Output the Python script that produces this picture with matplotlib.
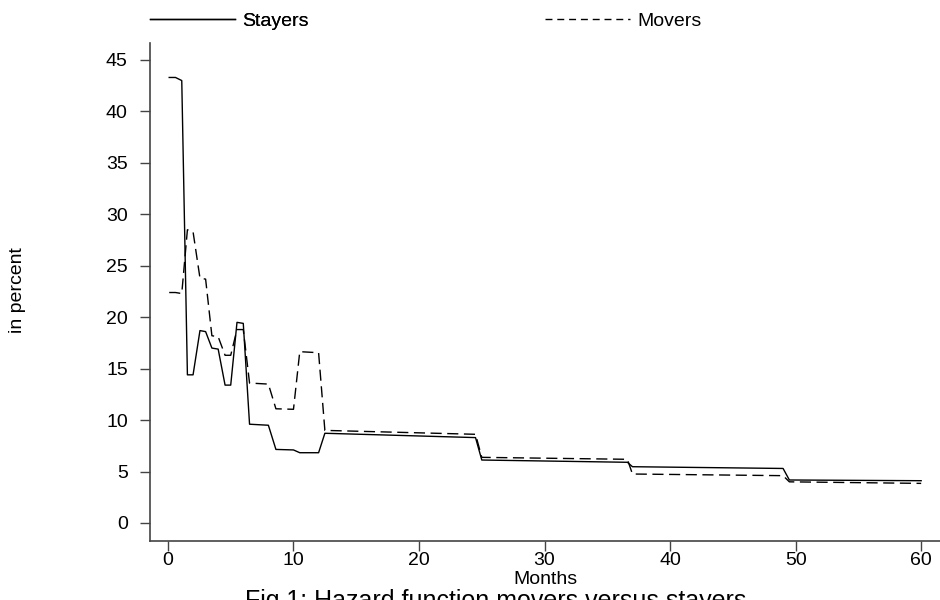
import matplotlib
matplotlib.use("Agg")
import matplotlib.pyplot as plt
from matplotlib.lines import Line2D

plt.rcParams['font.family'] = ['Liberation Sans', 'DejaVu Sans']

# months at which the hazard estimate changes
months = [0.1, 0.6, 1.1, 1.55, 2.0, 2.55, 3.0, 3.5, 4.0, 4.55, 5.0, 5.5, 6.0,
          6.5, 8.0, 8.6, 10.0, 10.5, 12.0, 12.5, 24.5, 25.0, 36.6, 37.0,
          49.0, 49.5, 60.0]

# hazard in percent
stayers = [43.3, 43.3, 43.0, 14.4, 14.4, 18.7, 18.6, 17.0, 16.9, 13.4, 13.4,
           19.5, 19.4, 9.6, 9.5, 7.15, 7.1, 6.83, 6.83, 8.72, 8.3, 6.12, 5.9,
           5.47, 5.3, 4.18, 4.11]
movers = [22.4, 22.4, 22.3, 28.5, 28.3, 23.8, 23.7, 18.2, 18.1, 16.3, 16.3,
          18.8, 18.8, 13.6, 13.5, 11.1, 11.05, 16.65, 16.55, 9.0, 8.62, 6.38,
          6.19, 4.76, 4.6, 4.0, 3.85]

xticks = [0, 10, 20, 30, 40, 50, 60]
yticks = [0, 5, 10, 15, 20, 25, 30, 35, 40, 45]

fig = plt.figure(figsize=(9.4, 6), dpi=100)
ax = fig.add_axes([150 / 940, 59 / 600, 790 / 940, 498 / 600])

ax.plot(months, stayers, color='black', lw=1.0)
ax.plot(months, movers, color='black', lw=1.0, ls=(0, (8, 4)))

ax.set_xlim(-1.43, 61.5)
ax.set_ylim(-1.75, 46.65)
ax.set_xticks(xticks)
ax.set_yticks(yticks)

for side in ['top', 'right']:
    ax.spines[side].set_visible(False)
for side in ['left', 'bottom']:
    ax.spines[side].set_color('#444444')
    ax.spines[side].set_linewidth(1.2)

ax.tick_params(axis='both', length=7.5, width=1, color='#444444', labelsize=14)
ax.tick_params(axis='y', pad=8.5)
ax.tick_params(axis='x', pad=0.5)

ax.set_xlabel('Months', fontsize=14, labelpad=1)
fig.text(18 / 940, 1 - 290 / 600, 'in percent', rotation=90, fontsize=14,
         ha='center', va='center')

# legend keys across the top
h_stay = Line2D([], [], color='black', lw=1.0)
h_move = Line2D([], [], color='black', lw=1.0, ls=(0, (5, 3.5)))
leg1 = fig.legend([h_stay], ['Stayers'], loc='center left',
                  bbox_to_anchor=(150 / 940, 1 - 21 / 600), frameon=False,
                  fontsize=14, handlelength=4.35, handletextpad=0.4,
                  borderpad=0, borderaxespad=0)
fig.legend([h_move], ['Movers'], loc='center left',
           bbox_to_anchor=(545 / 940, 1 - 21 / 600), frameon=False,
           fontsize=14, handlelength=4.35, handletextpad=0.4,
           borderpad=0, borderaxespad=0)
fig.add_artist(leg1)

# caption, cut off by the bottom edge as in the original
fig.text(245 / 940, -8 / 600, 'Fig.1: Hazard function movers versus stayers',
         fontsize=18, ha='left', va='baseline')

fig.savefig('out.png', dpi=100)
